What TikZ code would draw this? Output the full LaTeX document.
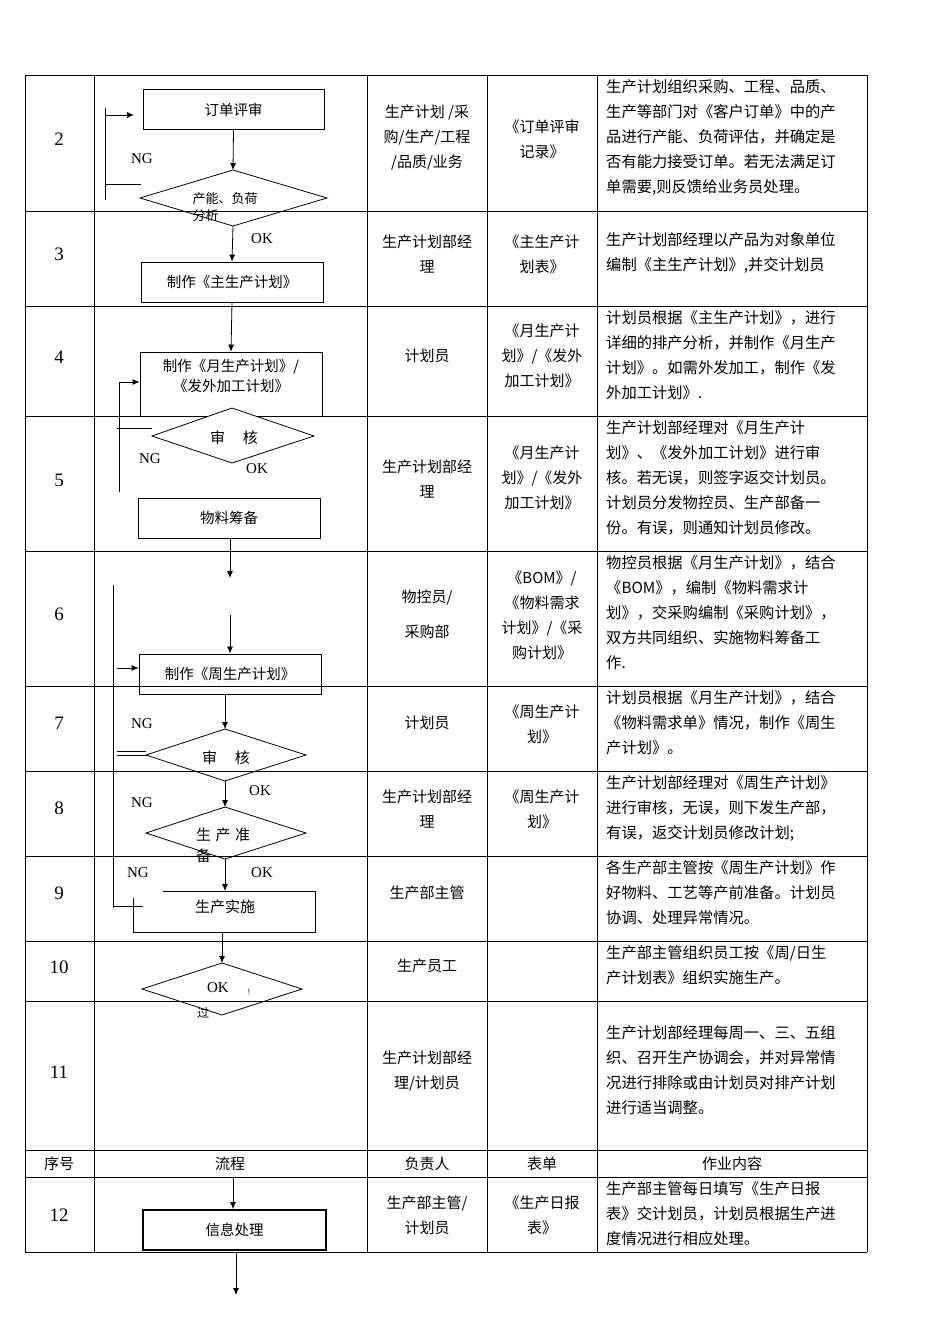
\documentclass[tikz,border=0pt]{standalone}
\usepackage{fontspec}
\setmainfont{Liberation Serif}
\newfontfamily\cjk{Noto Sans CJK SC}
\begin{document}
\begin{tikzpicture}[x=1pt,y=-1pt,
  grid/.style={draw=black,line width=0.8pt},
  fbox/.style={draw,line width=0.8pt,minimum height=40pt,inner sep=0pt,font=\cjk\fontsize{14.5}{18}\selectfont},
  dia/.style={draw,line width=0.8pt},
  arr/.style={-{Latex[length=7pt,width=6pt]},line width=0.8pt},
  ln/.style={line width=0.8pt},
  lab/.style={font=\fontsize{15}{15}\selectfont,inner sep=0pt},
  num/.style={font=\fontsize{19}{19}\selectfont,inner sep=0pt},
  cell/.style={font=\cjk\fontsize{15}{25}\selectfont,align=center,inner sep=0pt},
  desc/.style={font=\cjk\fontsize{15.3}{25}\selectfont,align=left,inner sep=0pt,anchor=north west},
  hd/.style={font=\cjk\fontsize{15}{15}\selectfont,inner sep=0pt}]
\useasboundingbox (0,0) rectangle (950,1344);
\usetikzlibrary{arrows.meta}
% table grid
\foreach \y in {75,211,306,416,551,686,771,856,941,1001,1150,1177,1252}
  \draw[grid] (25,\y) -- (867,\y);
\foreach \x in {25,94,367,487,597,867}
  \draw[grid] (\x,75) -- (\x,1252);
% numbers
\foreach \n/\y in {2/139,3/254,4/357,5/480,6/614,7/723,8/808,9/893,10/967,11/1072,12/1215}
  \node[num] (n\n) at (59,\y) {\n};
% header
\node[hd] (h1) at (59,1164) {序号};
\node[hd] (h2) at (230,1164) {流程};
\node[hd] (h3) at (427,1164) {负责人};
\node[hd] (h4) at (542,1164) {表单};
\node[hd] (h5) at (732,1164) {作业内容};
% responsible
\node[cell] (r2) at (427,138) {生产计划 /采\\购/生产/工程\\/品质/业务};
\node[cell] (r3) at (427,254) {生产计划部经\\理};
\node[cell] (r4) at (427,356) {计划员};
\node[cell] (r5) at (427,479) {生产计划部经\\理};
\node[cell,font=\cjk\fontsize{15}{35}\selectfont] (r6) at (427,614) {物控员/\\采购部};
\node[cell] (r7) at (427,723) {计划员};
\node[cell] (r8) at (427,809) {生产计划部经\\理};
\node[cell] (r9) at (427,893) {生产部主管};
\node[cell] (r10) at (427,966) {生产员工};
\node[cell] (r11) at (427,1071) {生产计划部经\\理/计划员};
\node[cell] (r12) at (427,1215) {生产部主管/\\计划员};
% forms
\node[cell] (f2) at (542,139) {《订单评审\\记录》};
\node[cell] (f3) at (542,254) {《主生产计\\划表》};
\node[cell] (f4) at (542,356) {《月生产计\\划》/《发外\\加工计划》};
\node[cell] (f5) at (542,478) {《月生产计\\划》/《发外\\加工计划》};
\node[cell] (f6) at (542,615) {《BOM》/\\《物料需求\\计划》/《采\\购计划》};
\node[cell] (f7) at (542,724) {《周生产计\\划》};
\node[cell] (f8) at (542,809) {《周生产计\\划》};
\node[cell] (f12) at (542,1215) {《生产日报\\表》};
% descriptions
\node[desc] (d2) at (606,79) {生产计划组织采购、工程、品质、\\生产等部门对《客户订单》中的产\\品进行产能、负荷评估，并确定是\\否有能力接受订单。若无法满足订\\单需要,则反馈给业务员处理。};
\node[desc] (d3) at (606,232) {生产计划部经理以产品为对象单位\\编制《主生产计划》,并交计划员};
\node[desc] (d4) at (606,310) {计划员根据《主生产计划》，进行\\详细的排产分析，并制作《月生产\\计划》。如需外发加工，制作《发\\外加工计划》.};
\node[desc] (d5) at (606,420) {生产计划部经理对《月生产计\\划》、《发外加工计划》进行审\\核。若无误，则签字返交计划员。\\计划员分发物控员、生产部备一\\份。有误，则通知计划员修改。};
\node[desc] (d6) at (606,555) {物控员根据《月生产计划》，结合\\《BOM》，编制《物料需求计\\划》，交采购编制《采购计划》，\\双方共同组织、实施物料筹备工\\作.};
\node[desc] (d7) at (606,690) {计划员根据《月生产计划》，结合\\《物料需求单》情况，制作《周生\\产计划》。};
\node[desc] (d8) at (606,775) {生产计划部经理对《周生产计划》\\进行审核，无误，则下发生产部，\\有误，返交计划员修改计划;};
\node[desc] (d9) at (606,860) {各生产部主管按《周生产计划》作\\好物料、工艺等产前准备。计划员\\协调、处理异常情况。};
\node[desc] (d10) at (606,945) {生产部主管组织员工按《周/日生\\产计划表》组织实施生产。};
\node[desc] (d11) at (606,1025) {生产计划部经理每周一、三、五组\\织、召开生产协调会，并对异常情\\况进行排除或由计划员对排产计划\\进行适当调整。};
\node[desc] (d12) at (606,1181) {生产部主管每日填写《生产日报\\表》交计划员，计划员根据生产进\\度情况进行相应处理。};
% ===== flowchart =====
\node[fbox,minimum width=181pt] (b1) at (233.5,109.5) {订单评审};
\draw[dia] (140,198) -- (233,170) -- (327,198) -- (233,226) -- cycle;
\coordinate (d1t) at (233,170); \coordinate (d1b) at (233,226);
\node[cell,font=\cjk\fontsize{13}{17}\selectfont,align=left] (t1) at (225,207) {产能、负荷\\分析};
\draw[arr] (b1.south) -- (d1t);
\coordinate (l1a) at (105,108); \coordinate (l1b) at (105,200);
\draw[ln] (l1a) -- (l1b);
\coordinate (l1c) at (105,115); \coordinate (l1d) at (134,115);
\draw[arr] (l1c) -- (l1d);
\coordinate (l1e) at (105,184); \coordinate (l1f) at (141,184);
\draw[ln] (l1e) -- (l1f);
\node[lab] (ng1) at (142,159) {NG};
\node[lab] (ok1) at (262,239) {OK};
\node[fbox,minimum width=182pt] (b2) at (232,282) {制作《主生产计划》};
\draw[arr] (d1b) -- (b2.north);
\node[fbox,minimum width=182pt,minimum height=64pt,align=center] (b3) at (231,384) {};
\node[cell,font=\cjk\fontsize{14.5}{20}\selectfont] (t3) at (231,376) {制作《月生产计划》/\\《发外加工计划》};
\draw[arr] (b2.south) -- (b3.north);
\draw[dia,fill=white] (152,436) -- (232,408) -- (314,436) -- (232,463) -- cycle;
\node[cell,font=\cjk\fontsize{15}{15}\selectfont] (t4) at (234,438) {审\hspace{1.2em}核};
\coordinate (l2a) at (119,382); \coordinate (l2b) at (119,492);
\draw[ln] (l2a) -- (l2b);
\draw[arr] (l2a) -- (b3.west |- l2a);
\coordinate (l2c) at (117,428); \coordinate (l2d) at (152,428);
\draw[ln] (l2c) -- (l2d);
\node[lab] (ng2) at (150,459) {NG};
\node[lab] (ok2) at (257,469) {OK};
\node[fbox,minimum width=182pt] (b4) at (229,518) {物料筹备};
\coordinate (a4) at (230,578);
\draw[arr] (b4.south -| a4) -- (a4);
\coordinate (a5) at (230,615);
\node[fbox,minimum width=182pt] (b5) at (230,674) {制作《周生产计划》};
\draw[arr] (a5) -- (b5.north -| a5);
\coordinate (l3a) at (113,585); \coordinate (l3b) at (113,908);
\draw[ln] (l3a) -- (l3b);
\coordinate (l3c) at (117,668);
\draw[arr] (l3c) -- (b5.west |- l3c);
\draw[dia] (146,755) -- (225,729) -- (306,755) -- (225,781) -- cycle;
\coordinate (d3t) at (225,729); \coordinate (d3b) at (225,781);
\node[cell,font=\cjk\fontsize{15}{15}\selectfont] (t5) at (226,758) {审\hspace{1.2em}核};
\draw[arr] (b5.south -| d3t) -- (d3t);
\coordinate (l4a) at (117,751); \coordinate (l4b) at (146,751);
\coordinate (l4c) at (117,755); \coordinate (l4d) at (146,755);
\draw[ln] (l4a) -- (l4b); \draw[ln] (l4c) -- (l4d);
\node[lab] (ng3) at (142,724) {NG};
\node[lab] (ok3) at (260,791) {OK};
\draw[dia] (146,833) -- (225,807) -- (306,833) -- (225,859) -- cycle;
\coordinate (d4t) at (225,807); \coordinate (d4b) at (225,859);
\draw[arr] (d3b) -- (d4t);
\node[cell,font=\cjk\fontsize{15}{21}\selectfont,align=left] (t6) at (223,845) {生\hspace{0.3em}产\hspace{0.3em}准\\备};
\node[lab] (ng4) at (142,803) {NG};
\node[lab] (ng5) at (138,873) {NG};
\node[lab] (ok4) at (262,873) {OK};
\coordinate (b6t) at (225,891);
\draw[ln] (163,891) -- (315,891) -- (315,932) -- (133,932) -- (133,898);
\draw[ln] (113,906) -- (143,906);
\node[cell,font=\cjk\fontsize{15}{15}\selectfont] (t7) at (225,907) {生产实施};
\draw[arr] (d4b) -- (b6t);
\draw[dia] (142,989) -- (222,963) -- (302,989) -- (222,1015) -- cycle;
\coordinate (d5t) at (222,963);
\draw[arr] (222,932) -- (d5t);
\node[lab] (ok5) at (218,988) {OK};
\node[lab,font=\fontsize{8}{8}\selectfont] (ex) at (249,992) {!};
\node[cell,font=\cjk\fontsize{12}{12}\selectfont] (t8) at (203,1013) {过};
% row 12
\coordinate (a12) at (233,1177);
\node[fbox,minimum width=183pt,line width=1.8pt] (b12) at (234.5,1230) {信息处理};
\draw[arr] (a12) -- (b12.north -| a12);
\coordinate (a13a) at (236,1252); \coordinate (a13b) at (236,1295);
\draw[arr] (a13a) -- (a13b);
\end{tikzpicture}
\end{document}
